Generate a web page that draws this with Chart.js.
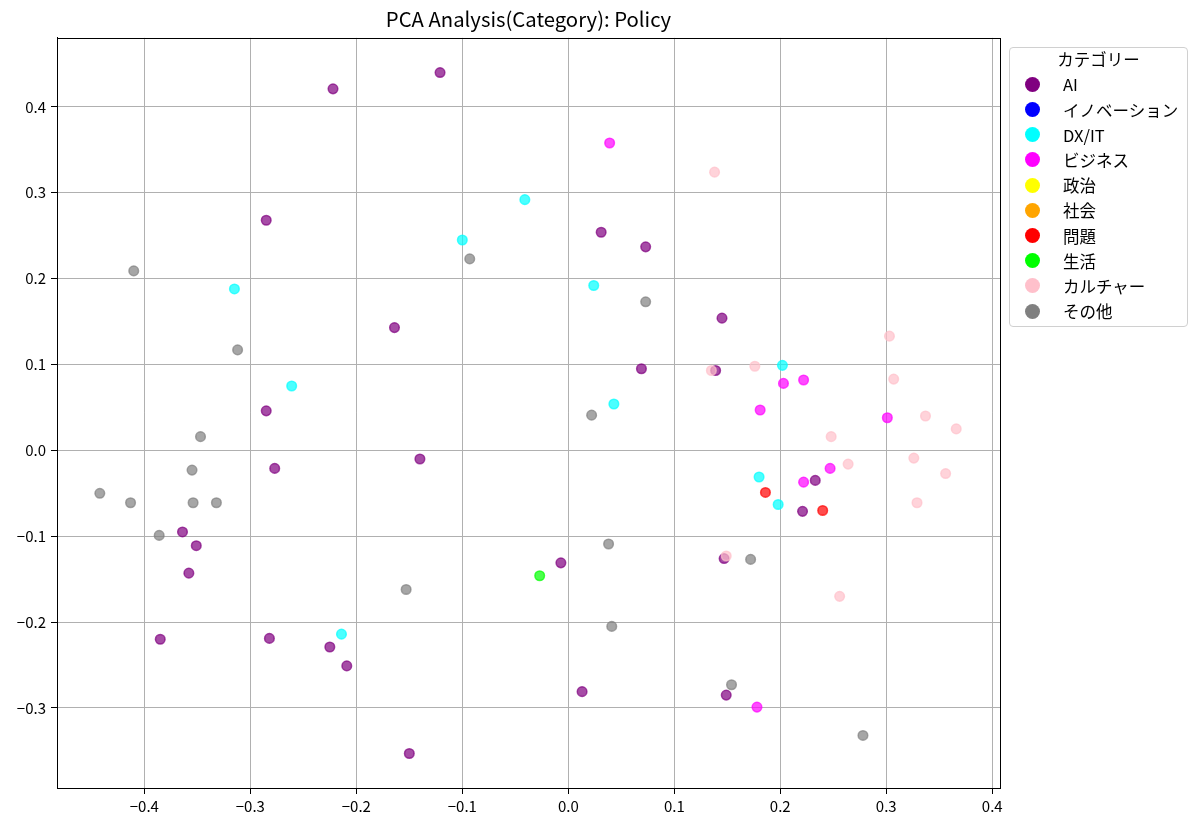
<!DOCTYPE html>
<html>
<head>
<meta charset="utf-8">
<title>PCA Analysis(Category): Policy</title>
<script src="https://cdn.jsdelivr.net/npm/chart.js@4.4.0/dist/chart.umd.min.js"></script>
<style>
  body { margin: 0; background: #fff; }
  #wrap { position: relative; width: 1200px; height: 829px; }
  #legend {
    position: absolute; left: 1009px; top: 47px;
    width: 177px; height: 278px;
    border: 1px solid #d0d0d0; border-radius: 4px; background: #fff;
    font-family: 'Noto Sans CJK JP', 'Noto Sans', sans-serif; font-size: 16.5px; color: #000;
  }
  .lg-title { height: 24.4px; line-height: 24.4px; text-align: center; margin-top: -0.6px; }
  .lg-item { height: 25.2px; display: flex; align-items: center; white-space: nowrap; }
  .lg-dot { width: 15px; height: 15px; border-radius: 50%; margin-left: 14.5px; margin-right: 23.5px; flex: none; }
</style>
</head>
<body>
<div id="wrap">
  <canvas id="pcaChart" width="1200" height="829"></canvas>
  <div id="legend"></div>
</div>
<script>
// Categories and their colours (legend order)
const categories = ['AI', 'イノベーション', 'DX/IT', 'ビジネス', '政治', '社会', '問題', '生活', 'カルチャー', 'その他'];
const categoryColors = ['#800080', '#0000ff', '#00ffff', '#ff00ff', '#ffff00', '#ffa500', '#ff0000', '#00ff00', '#ffc0cb', '#808080'];

// PC1 / PC2 values, [x, y]
const aiPoints = [
  [-0.222, 0.421], [-0.121, 0.440], [-0.285, 0.268], [-0.164, 0.143], [-0.285, 0.046],
  [-0.277, -0.021], [-0.140, -0.010], [-0.364, -0.095], [-0.351, -0.111], [-0.358, -0.143],
  [-0.007, -0.131], [-0.385, -0.220], [-0.282, -0.219], [-0.225, -0.229], [-0.209, -0.251],
  [-0.150, -0.353], [0.013, -0.281], [0.031, 0.254], [0.073, 0.237], [0.145, 0.154],
  [0.069, 0.095], [0.139, 0.093], [0.233, -0.035], [0.221, -0.071], [0.147, -0.126],
  [0.149, -0.285]
];
const innovationPoints = [];
const dxItPoints = [
  [-0.315, 0.188], [-0.041, 0.292], [-0.100, 0.245], [-0.261, 0.075], [-0.214, -0.214],
  [0.024, 0.192], [0.202, 0.099], [0.043, 0.054], [0.180, -0.031], [0.198, -0.063]
];
const businessPoints = [
  [0.039, 0.358], [0.203, 0.078], [0.222, 0.082], [0.181, 0.047], [0.301, 0.038],
  [0.247, -0.021], [0.222, -0.037], [0.178, -0.299]
];
const politicsPoints = [];
const societyPoints = [];
const problemPoints = [[0.186, -0.049], [0.240, -0.070]];
const lifePoints = [[-0.027, -0.146]];
const culturePoints = [
  [0.138, 0.324], [0.303, 0.133], [0.135, 0.093], [0.176, 0.098], [0.307, 0.083],
  [0.337, 0.040], [0.366, 0.025], [0.248, 0.016], [0.326, -0.009], [0.264, -0.016],
  [0.356, -0.027], [0.329, -0.061], [0.149, -0.123], [0.256, -0.170]
];
const otherPoints = [
  [-0.410, 0.209], [-0.093, 0.223], [-0.312, 0.117], [-0.347, 0.016], [-0.355, -0.023],
  [-0.442, -0.050], [-0.413, -0.061], [-0.354, -0.061], [-0.332, -0.061], [-0.386, -0.099],
  [-0.153, -0.162], [0.073, 0.173], [0.022, 0.041], [0.038, -0.109], [0.172, -0.127],
  [0.041, -0.205], [0.154, -0.273], [0.278, -0.332]
];
const seriesPoints = [aiPoints, innovationPoints, dxItPoints, businessPoints, politicsPoints,
  societyPoints, problemPoints, lifePoints, culturePoints, otherPoints];

// Axis limits and ticks
const xRange = [-0.4824, 0.4073];
const yRange = [-0.3932, 0.4804];
const xTicks = [-0.4, -0.3, -0.2, -0.1, 0.0, 0.1, 0.2, 0.3, 0.4];
const yTicks = [-0.3, -0.2, -0.1, 0.0, 0.1, 0.2, 0.3, 0.4];

Chart.defaults.font.family = "'Noto Sans CJK JP', 'Noto Sans', sans-serif";
Chart.defaults.color = '#000';

function withAlpha(hex, a) {
  const n = parseInt(hex.slice(1), 16);
  return 'rgba(' + (n >> 16) + ',' + ((n >> 8) & 255) + ',' + (n & 255) + ',' + a + ')';
}

function fmtTick(v) {
  return (v < 0 ? '\u2212' : '') + Math.abs(v).toFixed(1);
}

// matplotlib-like closed frame around the plot area
const framePlugin = {
  id: 'frame',
  afterDraw(chart) {
    const { ctx, chartArea: a } = chart;
    ctx.save();
    ctx.strokeStyle = '#000';
    ctx.lineWidth = 1;
    ctx.strokeRect(Math.round(a.left) + 0.5, Math.round(a.top) + 0.5,
      Math.round(a.right - a.left), Math.round(a.bottom - a.top));
    ctx.restore();
  }
};

// legend outside the axes, built from the datasets
const htmlLegend = {
  id: 'htmlLegend',
  afterUpdate(chart) {
    const box = document.getElementById('legend');
    box.innerHTML = '';
    const title = document.createElement('div');
    title.className = 'lg-title';
    title.textContent = 'カテゴリー';
    box.appendChild(title);
    chart.data.datasets.forEach((ds, i) => {
      const row = document.createElement('div');
      row.className = 'lg-item';
      const dot = document.createElement('span');
      dot.className = 'lg-dot';
      dot.style.background = categoryColors[i];
      const txt = document.createElement('span');
      txt.textContent = ds.label;
      row.appendChild(dot);
      row.appendChild(txt);
      box.appendChild(row);
    });
  }
};

const datasets = seriesPoints.map((pts, i) => ({
  label: categories[i],
  data: pts.map(p => ({ x: p[0], y: p[1] })),
  backgroundColor: withAlpha(categoryColors[i], 0.7),
  borderColor: withAlpha(categoryColors[i], 0.7),
  borderWidth: 1.5,
  pointRadius: 4.8,
  pointHoverRadius: 4.8,
  order: categories.length - i
}));

new Chart(document.getElementById('pcaChart').getContext('2d'), {
  type: 'scatter',
  data: { datasets },
  options: {
    responsive: false,
    animation: false,
    layout: { padding: { right: 200, left: 0, top: 0, bottom: 0 } },
    plugins: {
      legend: { display: false },
      tooltip: { enabled: false },
      title: {
        display: true,
        text: 'PCA Analysis(Category): Policy',
        fullSize: false,
        color: '#000',
        font: { size: 20.3, weight: 'normal' },
        padding: { top: 7, bottom: 6.5 }
      }
    },
    scales: {
      x: {
        type: 'linear',
        min: xRange[0],
        max: xRange[1],
        afterBuildTicks: s => { s.ticks = xTicks.map(v => ({ value: v })); },
        afterFit: s => { s.height = 41; },
        ticks: { callback: fmtTick, color: '#000', font: { size: 15 }, padding: 3, maxRotation: 0, autoSkip: false },
        grid: { color: '#b0b0b0', lineWidth: 1, tickColor: '#000', tickLength: 6 },
        border: { display: true, color: '#000', width: 1 }
      },
      y: {
        type: 'linear',
        min: yRange[0],
        max: yRange[1],
        afterBuildTicks: s => { s.ticks = yTicks.map(v => ({ value: v })); },
        afterFit: s => { s.width = 57; },
        ticks: { callback: fmtTick, color: '#000', font: { size: 15 }, padding: 5, autoSkip: false },
        grid: { color: '#b0b0b0', lineWidth: 1, tickColor: '#000', tickLength: 6 },
        border: { display: true, color: '#000', width: 1 }
      }
    }
  },
  plugins: [framePlugin, htmlLegend]
});
</script>
</body>
</html>
